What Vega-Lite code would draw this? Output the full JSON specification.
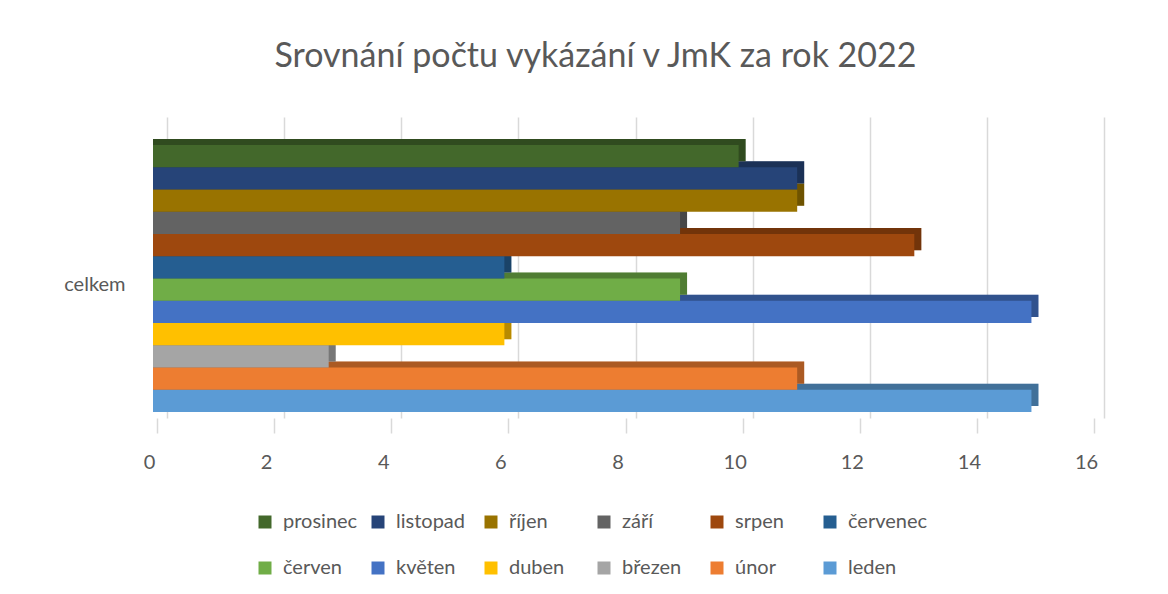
{
  "$schema": "https://vega.github.io/schema/vega-lite/v6.json",
  "autosize": "none",
  "width": 937,
  "height": 301,
  "padding": {"left": 153, "top": 117, "right": 78, "bottom": 176},
  "background": "white",
  "title": {
    "text": "Srovnání počtu vykázání v JmK za rok 2022",
    "font": "Lato",
    "fontSize": 34,
    "fontWeight": "normal",
    "color": "#595959",
    "anchor": "middle",
    "dx": -26,
    "offset": 43
  },
  "config": {
    "view": {"stroke": null},
    "font": "Lato"
  },
  "data": {
    "values": [
      {"kategorie": "celkem", "mesic": "leden", "pocet": 15},
      {"kategorie": "celkem", "mesic": "únor", "pocet": 11},
      {"kategorie": "celkem", "mesic": "březen", "pocet": 3},
      {"kategorie": "celkem", "mesic": "duben", "pocet": 6},
      {"kategorie": "celkem", "mesic": "květen", "pocet": 15},
      {"kategorie": "celkem", "mesic": "červen", "pocet": 9},
      {"kategorie": "celkem", "mesic": "červenec", "pocet": 6},
      {"kategorie": "celkem", "mesic": "srpen", "pocet": 13},
      {"kategorie": "celkem", "mesic": "září", "pocet": 9},
      {"kategorie": "celkem", "mesic": "říjen", "pocet": 11},
      {"kategorie": "celkem", "mesic": "listopad", "pocet": 11},
      {"kategorie": "celkem", "mesic": "prosinec", "pocet": 10}
    ]
  },
  "encoding": {
    "y": {
      "field": "mesic",
      "type": "nominal",
      "scale": {
        "domain": ["prosinec", "listopad", "říjen", "září", "srpen", "červenec", "červen", "květen", "duben", "březen", "únor", "leden"],
        "paddingInner": 0,
        "paddingOuter": 0.764,
        "align": 0.82
      },
      "axis": {
        "title": null,
        "domain": false,
        "ticks": false,
        "values": ["červen"],
        "labelExpr": "'celkem'",
        "labelFont": "Lato",
        "labelFontSize": 20,
        "labelColor": "#595959",
        "labelPadding": 28,
        "labelOffset": -5
      }
    }
  },
  "layer": [
    {
      "mark": {"type": "bar", "xOffset": 7, "yOffset": -6, "clip": false},
      "encoding": {
        "x": {
          "field": "pocet",
          "type": "quantitative",
          "stack": null,
          "scale": {"domain": [0, 16], "nice": false},
          "axis": {
            "orient": "bottom",
            "title": null,
            "grid": true,
            "gridColor": "#d9d9d9",
            "gridWidth": 1.5,
            "tickOffset": 14,
            "labels": false,
            "ticks": false,
            "domain": false,
            "values": [0, 2, 4, 6, 8, 10, 12, 14, 16]
          }
        },
        "color": {
          "field": "mesic",
          "type": "nominal",
          "scale": {
            "domain": ["prosinec", "listopad", "říjen", "září", "srpen", "červenec", "červen", "květen", "duben", "březen", "únor", "leden"],
            "range": ["#43682B", "#264478", "#997300", "#636363", "#9E480E", "#255E91", "#70AD47", "#4472C4", "#FFC000", "#A5A5A5", "#ED7D31", "#5B9BD5"]
          },
          "legend": {
            "title": null,
            "orient": "none",
            "legendX": 102,
            "legendY": 395,
            "direction": "horizontal",
            "columns": 6,
            "gridAlign": "all",
            "symbolType": "square",
            "symbolSize": 169,
            "symbolStrokeWidth": 0,
            "labelFont": "Lato",
            "labelFontSize": 20,
            "labelColor": "#595959",
            "labelOffset": 8,
            "columnPadding": 5,
            "rowPadding": 26,
            "padding": 0
          }
        }
      }
    },
    {
      "mark": {"type": "bar", "xOffset": 7, "yOffset": -6, "color": "black", "opacity": 0.28, "clip": false},
      "encoding": {
        "x": {"field": "pocet", "type": "quantitative", "stack": null, "axis": null}
      }
    },
    {
      "mark": {"type": "bar"},
      "encoding": {
        "x": {
          "field": "pocet",
          "type": "quantitative",
          "stack": null,
          "axis": {
            "orient": "bottom",
            "title": null,
            "grid": false,
            "domain": false,
            "ticks": true,
            "tickSize": 15,
            "tickColor": "#d9d9d9",
            "tickWidth": 1.5,
            "tickOffset": 4,
            "labelOffset": -8,
            "labelFlush": false,
            "labelPadding": 19,
            "labelFont": "Lato",
            "labelFontSize": 20,
            "labelColor": "#595959",
            "values": [0, 2, 4, 6, 8, 10, 12, 14, 16]
          }
        },
        "color": {"field": "mesic", "type": "nominal"}
      }
    }
  ],
  "resolve": {"axis": {"x": "independent"}}
}
